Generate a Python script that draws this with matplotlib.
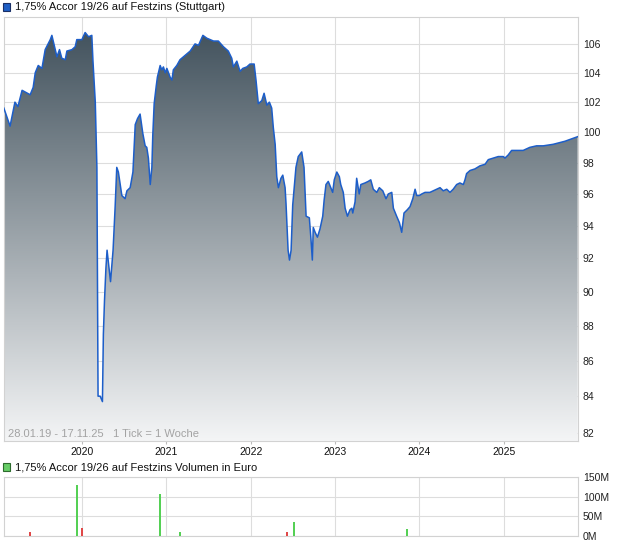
import matplotlib

matplotlib.use("Agg")
import matplotlib.dates as mdates
import matplotlib.pyplot as plt
import numpy as np
import pandas as pd
from matplotlib.colors import LinearSegmentedColormap
from matplotlib.patches import PathPatch, Rectangle
from matplotlib.ticker import FixedFormatter, FixedLocator, NullLocator

plt.rcParams["font.family"] = ["Liberation Sans", "DejaVu Sans"]

# weekly closing prices
price_dates = [
    "2019-01-28", "2019-02-24", "2019-03-17", "2019-03-30", "2019-04-17", "2019-05-22",
    "2019-06-04", "2019-06-13", "2019-06-26", "2019-07-12", "2019-07-26", "2019-08-17",
    "2019-08-24", "2019-09-15", "2019-09-26", "2019-10-06", "2019-10-21", "2019-10-28",
    "2019-11-19", "2019-12-03", "2019-12-10", "2020-01-01", "2020-01-15", "2020-01-30",
    "2020-02-13", "2020-02-18", "2020-02-28", "2020-03-06", "2020-03-11", "2020-03-20",
    "2020-03-30", "2020-04-03", "2020-04-08", "2020-04-14", "2020-04-19", "2020-05-04",
    "2020-05-15", "2020-05-24", "2020-05-31", "2020-06-07", "2020-06-15", "2020-06-22",
    "2020-07-06", "2020-07-14", "2020-07-28", "2020-08-09", "2020-08-19", "2020-08-29",
    "2020-09-09", "2020-09-21", "2020-10-01", "2020-10-08", "2020-10-15", "2020-10-23",
    "2020-10-30", "2020-11-03", "2020-11-09", "2020-11-18", "2020-11-23", "2020-12-05",
    "2020-12-12", "2020-12-19", "2020-12-27", "2021-01-03", "2021-01-17", "2021-01-25",
    "2021-01-31", "2021-02-15", "2021-03-01", "2021-03-23", "2021-04-14", "2021-05-05",
    "2021-05-20", "2021-06-08", "2021-06-25", "2021-07-24", "2021-08-14", "2021-09-05",
    "2021-09-26", "2021-10-11", "2021-10-18", "2021-11-02", "2021-11-16", "2021-11-28",
    "2021-12-15", "2021-12-29", "2022-01-16", "2022-01-24", "2022-02-03", "2022-02-18",
    "2022-02-28", "2022-03-12", "2022-03-23", "2022-04-02", "2022-04-09", "2022-04-17",
    "2022-04-24", "2022-05-01", "2022-05-12", "2022-05-20", "2022-05-30", "2022-06-03",
    "2022-06-12", "2022-06-18", "2022-06-25", "2022-07-02", "2022-07-16", "2022-07-26",
    "2022-08-10", "2022-08-20", "2022-08-29", "2022-09-12", "2022-09-19", "2022-09-25",
    "2022-09-29", "2022-10-07", "2022-10-17", "2022-10-28", "2022-11-09", "2022-11-15",
    "2022-11-23", "2022-12-03", "2022-12-14", "2022-12-22", "2022-12-29", "2023-01-09",
    "2023-01-20", "2023-01-26", "2023-02-06", "2023-02-14", "2023-02-24", "2023-03-07",
    "2023-03-15", "2023-03-19", "2023-03-29", "2023-04-05", "2023-04-16", "2023-04-23",
    "2023-05-11", "2023-05-25", "2023-06-05", "2023-06-16", "2023-07-01", "2023-07-12",
    "2023-07-27", "2023-08-10", "2023-08-20", "2023-09-04", "2023-09-11", "2023-09-25",
    "2023-10-07", "2023-10-17", "2023-10-27", "2023-11-10", "2023-11-22", "2023-12-04",
    "2023-12-14", "2023-12-21", "2024-01-01", "2024-01-12", "2024-01-26", "2024-02-16",
    "2024-03-02", "2024-03-16", "2024-03-31", "2024-04-14", "2024-04-29", "2024-05-13",
    "2024-05-27", "2024-06-11", "2024-06-25", "2024-07-10", "2024-07-17", "2024-07-24",
    "2024-08-08", "2024-08-29", "2024-09-20", "2024-10-12", "2024-10-26", "2024-11-16",
    "2024-12-08", "2024-12-30", "2025-01-06", "2025-01-20", "2025-02-04", "2025-02-26",
    "2025-03-26", "2025-04-24", "2025-05-23", "2025-06-21", "2025-08-03", "2025-09-23",
    "2025-11-17",
]
price_values = [
    101.6, 100.4, 102.0, 101.7, 102.8, 102.5,
    103.0, 104.0, 104.5, 104.3, 105.6, 106.3,
    106.6, 105.1, 105.6, 105.0, 104.9, 105.5,
    105.6, 105.8, 106.3, 106.3, 106.8, 106.5,
    106.6, 104.8, 102.0, 97.7, 84.0, 84.0,
    83.7, 87.5, 89.5, 91.4, 92.5, 90.6,
    92.5, 95.2, 97.7, 97.4, 96.6, 95.9,
    95.7, 96.2, 96.4, 97.4, 100.5, 100.9,
    101.2, 99.9, 99.1, 99.0, 98.3, 96.6,
    97.7, 99.8, 101.9, 103.1, 103.7, 104.5,
    104.2, 104.4, 104.0, 104.3, 103.7, 103.5,
    104.2, 104.5, 104.9, 105.2, 105.5, 106.0,
    105.9, 106.6, 106.4, 106.2, 106.2, 105.8,
    105.5, 105.0, 104.4, 104.8, 104.1, 104.3,
    104.4, 104.6, 104.6, 103.5, 101.9, 102.1,
    102.6, 101.8, 102.0, 101.6, 100.3, 99.2,
    97.1, 96.4, 97.0, 97.2, 96.4, 95.4,
    92.5, 91.9, 92.5, 95.3, 97.7, 98.4,
    98.7, 97.7, 94.6, 94.5, 93.2, 91.9,
    93.9, 93.6, 93.3, 93.8, 94.6, 95.6,
    96.6, 96.8, 96.4, 96.1, 96.9, 97.4,
    97.1, 96.6, 96.1, 95.1, 94.6, 95.0,
    95.1, 94.8, 95.5, 97.0, 96.0, 96.6,
    96.7, 96.8, 96.9, 96.3, 96.1, 96.4,
    96.2, 95.7, 96.0, 96.1, 95.1, 94.6,
    94.2, 93.6, 94.8, 95.0, 95.2, 95.7,
    96.3, 95.9, 95.9, 96.0, 96.1, 96.1,
    96.2, 96.3, 96.4, 96.2, 96.3, 96.1,
    96.3, 96.6, 96.7, 96.6, 96.9, 97.3,
    97.5, 97.6, 97.8, 97.9, 98.2, 98.3,
    98.4, 98.4, 98.3, 98.5, 98.8, 98.8,
    98.8, 99.0, 99.1, 99.1, 99.2, 99.4,
    99.7,
]

volume_dates = ["2019-05-23", "2019-12-09", "2020-01-02", "2020-12-03",
                "2021-03-02", "2022-06-08", "2022-07-06", "2023-11-07"]
volume_values = [9.5e6, 129e6, 21e6, 106e6, 10e6, 10e6, 36e6, 18e6]
volume_direction = ["down", "up", "down", "up", "up", "down", "up", "up"]

year_ticks = ["2020-01-01", "2021-01-01", "2022-01-01", "2023-01-01", "2024-01-01", "2025-01-01"]
year_labels = ["2020", "2021", "2022", "2023", "2024", "2025"]
price_ticks = [82, 84, 86, 88, 90, 92, 94, 96, 98, 100, 102, 104, 106]
volume_ticks = [0, 50e6, 100e6, 150e6]
volume_labels = ["0M", "50M", "100M", "150M"]

title_main = "1,75% Accor 19/26 auf Festzins (Stuttgart)"
title_volume = "1,75% Accor 19/26 auf Festzins Volumen in Euro"
range_note = "28.01.19 - 17.11.25   1 Tick = 1 Woche"

GRID = "#dddddd"
SPINE = "#d2d2d2"
W, H = 620, 546

dates = mdates.date2num(pd.to_datetime(price_dates))
values = np.array(price_values)
vdates = mdates.date2num(pd.to_datetime(volume_dates))
yticks_x = mdates.date2num(pd.to_datetime(year_ticks))
xlim = (dates[0] - 1.5, dates[-1] + 1.5)
ylim = (81.55, 107.9)

fig = plt.figure(figsize=(W / 100, H / 100), dpi=100)


def _box(left, top, right, bottom):
    return [left / W, 1 - bottom / H, (right - left) / W, (bottom - top) / H]


def _style(ax):
    for sp in ax.spines.values():
        sp.set_color(SPINE)
        sp.set_linewidth(0.8)
    ax.set_xticks(yticks_x)
    ax.grid(True, color=GRID, linewidth=0.8)
    ax.set_axisbelow(True)
    ax.yaxis.tick_right()
    ax.tick_params(axis="y", length=0, pad=3.5, labelsize=7.5, labelcolor="#222222")


# --- price panel ---
ax = fig.add_axes(_box(3.5, 17, 578, 441))
ax.set_yscale("log")
ax.set_xlim(*xlim)
ax.set_ylim(*ylim)
_style(ax)
ax.yaxis.set_major_locator(FixedLocator(price_ticks))
ax.yaxis.set_major_formatter(FixedFormatter([str(v) for v in price_ticks]))
ax.yaxis.set_minor_locator(NullLocator())
ax.set_xticklabels(year_labels)
ax.tick_params(axis="x", length=2, pad=2, labelsize=7.5, color="#bbbbbb", labelcolor="#111111")
ax.set_autoscale_on(False)

cmap = LinearSegmentedColormap.from_list("area", ["#f4f5f6", "#42525d"])
grad = np.linspace(0, 1, 256).reshape(-1, 1)
im = ax.imshow(grad, aspect="auto", cmap=cmap, origin="lower",
               extent=[0, 1, 0, 0.97], transform=ax.transAxes, zorder=1)
poly = ax.fill_between(dates, values, ylim[0], facecolor="none", edgecolor="none")
clip = PathPatch(poly.get_paths()[0], transform=ax.transData, facecolor="none", edgecolor="none")
ax.add_patch(clip)
poly.remove()
im.set_clip_path(clip)

ax.plot(dates, values, color="#1d5ec9", linewidth=1.1, zorder=3)
ax.text(0.0078, 0.0165, range_note, transform=ax.transAxes, fontsize=8,
        color="#a3a3a3", ha="left", va="center", zorder=4)

# --- volume panel ---
ax2 = fig.add_axes(_box(3.5, 477, 578, 536))
ax2.set_xlim(*xlim)
ax2.set_ylim(0, 150e6)
_style(ax2)
ax2.set_yticks(volume_ticks)
ax2.set_yticklabels(volume_labels)
ax2.set_xticklabels([])
ax2.tick_params(axis="x", length=0)
bar_colors = ["#55d055" if d == "up" else "#e04848" for d in volume_direction]
ax2.bar(vdates, volume_values, width=9, color=bar_colors, linewidth=0,
        antialiased=False, zorder=3)

# --- legend headers ---
fig.patches.append(Rectangle((3 / W, 1 - 11 / H), 7 / W, 8 / H, transform=fig.transFigure,
                             facecolor="#1f5fc4", edgecolor="#1a2f66", linewidth=0.8))
fig.text(15 / W, 1 - 7.5 / H, title_main, fontsize=8, color="#111111", va="center")
fig.patches.append(Rectangle((3 / W, 1 - 471 / H), 7 / W, 8 / H, transform=fig.transFigure,
                             facecolor="#66cc66", edgecolor="#2d6b2d", linewidth=0.8))
fig.text(15 / W, 1 - 467 / H, title_volume, fontsize=8, color="#111111", va="center")

fig.savefig("out.png", dpi=100, facecolor="white")
